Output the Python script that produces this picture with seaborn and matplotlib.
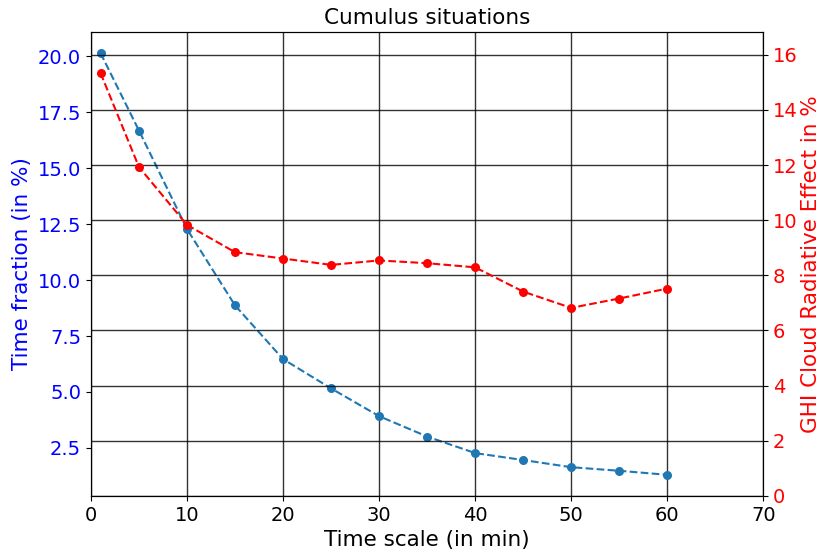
import matplotlib
matplotlib.use("Agg")
import matplotlib.pyplot as plt
import seaborn as sns

# time scales (min)
time_scale = [1, 5, 10, 15, 20, 25, 30, 35, 40, 45, 50, 55, 60]
# time fraction (%), left axis
time_fraction = [20.14, 16.68, 12.28, 8.87, 6.47, 5.16, 3.92, 3.01, 2.27, 1.96, 1.64, 1.48, 1.30]
# GHI cloud radiative effect (%), right axis
ghi_cre = [15.34, 11.93, 9.83, 8.84, 8.61, 8.38, 8.54, 8.44, 8.29, 7.41, 6.82, 7.16, 7.52]

fig, ax = plt.subplots(figsize=(8.19, 5.51), dpi=100)
fig.subplots_adjust(left=0.111, right=0.932, top=0.942, bottom=0.100)

blue = "#1f77b4"
sns.lineplot(x=time_scale, y=time_fraction, ax=ax, color=blue, marker="o",
             linestyle="--", lw=1.5, markersize=6.5, markeredgecolor=blue,
             markeredgewidth=0)
ax.set_xlim(0, 70)
ax.set_xticks(range(0, 71, 10))
ax.set_xlabel("Time scale (in min)", fontsize=15.5)
ax.set_ylabel("Time fraction (in %)", fontsize=15.5, color="blue")
ax.tick_params(axis="x", labelsize=14)
ax.tick_params(axis="y", labelsize=14, labelcolor="blue")
ax.grid(axis="x", color="black", lw=1, alpha=0.8)
ax.set_title("Cumulus situations", fontsize=15.5)

ax2 = ax.twinx()
sns.lineplot(x=time_scale, y=ghi_cre, ax=ax2, color="red", marker="o",
             linestyle="--", lw=1.5, markersize=6.5, markeredgecolor="red",
             markeredgewidth=0)
ax2.set_ylim(0, max(ghi_cre) * 1.097)
ax2.set_ylabel("GHI Cloud Radiative Effect in %", fontsize=15.5, color="red",
               labelpad=2)
ax2.tick_params(axis="y", labelsize=14, labelcolor="red")
ax2.grid(axis="y", color="black", lw=1, alpha=0.8)

fig.savefig("out.png", dpi=100)
